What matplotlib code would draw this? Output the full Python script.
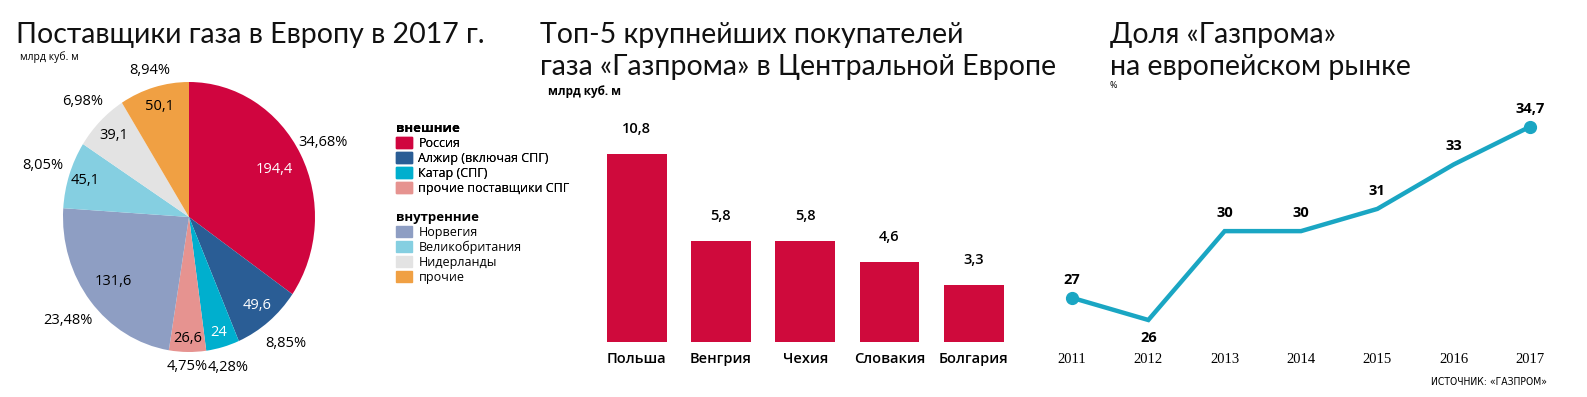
import matplotlib
matplotlib.use("Agg")
import matplotlib.pyplot as plt
from matplotlib.patches import Patch
import numpy as np

plt.rcParams['font.family'] = ['Open Sans', 'DejaVu Sans']

# --- data ---
suppliers = ['Россия', 'Алжир (включая СПГ)', 'Катар (СПГ)', 'прочие поставщики СПГ',
             'Норвегия', 'Великобритания', 'Нидерланды', 'прочие']
supply = [194.4, 49.6, 24, 26.6, 131.6, 45.1, 39.1, 50.1]
supply_colors = ['#D0053F', '#2A5D95', '#00AFCE', '#E69390',
                 '#8E9EC3', '#85CFE1', '#E3E3E3', '#F0A043']
n_external = 4

buyers = ['Польша', 'Венгрия', 'Чехия', 'Словакия', 'Болгария']
buy_vol = [10.8, 5.8, 5.8, 4.6, 3.3]

years = [2011, 2012, 2013, 2014, 2015, 2016, 2017]
share = [27, 26, 30, 30, 31, 33, 34.7]

W, H = 1587, 397


def box(x0, y0, x1, y1):
    return [x0 / W, 1 - y1 / H, (x1 - x0) / W, (y1 - y0) / H]


def comma(v):
    return f"{v:g}".replace('.', ',')


fig = plt.figure(figsize=(W / 100, H / 100), dpi=100)

# --- titles ---
tkw = dict(fontsize=20.5, family='Lato', fontweight='normal', color='#111111', va='baseline')
fig.text(16 / W, 1 - 43 / H, 'Поставщики газа в Европу в 2017 г.', **tkw)
fig.text(540 / W, 1 - 43 / H, 'Топ-5 крупнейших покупателей', **tkw)
fig.text(540 / W, 1 - 75 / H, 'газа «Газпрома» в Центральной Европе', **tkw)
fig.text(1110 / W, 1 - 43 / H, 'Доля «Газпрома»', **tkw)
fig.text(1110 / W, 1 - 75 / H, 'на европейском рынке', **tkw)
fig.text(20 / W, 1 - 57 / H, 'млрд куб. м', fontsize=7.5, va='center')
fig.text(548 / W, 1 - 92 / H, 'млрд куб. м', fontsize=8.5, fontweight='bold', va='center')
fig.text(1110 / W, 1 - 86 / H, '%', fontsize=6.5, va='center')
fig.text(1547 / W, 1 - 382 / H, 'ИСТОЧНИК: «ГАЗПРОМ»', fontsize=7.5, ha='right', va='center',
         family='DejaVu Sans', fontstretch='condensed')

# --- pie ---
ax1 = fig.add_axes(box(63, 82, 315, 352))
wedges, _ = ax1.pie(supply, colors=supply_colors, startangle=90, counterclock=False,
                    radius=1)
ax1.set_aspect('auto')
ax1.set_xlim(-1, 1)
ax1.set_ylim(-1, 1)
total = sum(supply)
val_r = [0.76, 0.85, 0.89, 0.9, 0.77, 0.87, 0.85, 0.85]
pct_r = [1.2, 1.21, 1.16, 1.11, 1.23, 1.22, 1.2, 1.13]
val_colors = ['white', 'white', 'white', 'black', 'black', 'black', 'black', 'black']
for w, v, vr, pr, vc in zip(wedges, supply, val_r, pct_r, val_colors):
    a = np.deg2rad((w.theta1 + w.theta2) / 2)
    ax1.text(vr * np.cos(a), vr * np.sin(a), comma(v), ha='center', va='center',
             fontsize=10.5, color=vc)
    ax1.text(pr * np.cos(a), pr * np.sin(a), f"{v / total * 100:.2f}%".replace('.', ','),
             ha='center', va='center', fontsize=10.5, clip_on=False)

# --- legend ---
lkw = dict(frameon=False, fontsize=9, handlelength=1.25, handleheight=0.95,
           handletextpad=0.55, labelspacing=0.15, borderpad=0, borderaxespad=0,
           alignment='left', title_fontproperties={'weight': 'bold', 'size': 9.5})
h_ext = [Patch(color=c, label=l) for c, l in zip(supply_colors[:n_external], suppliers[:n_external])]
h_int = [Patch(color=c, label=l) for c, l in zip(supply_colors[n_external:], suppliers[n_external:])]
leg1 = fig.legend(handles=h_ext, title='внешние', loc='upper left',
                  bbox_to_anchor=(396 / W, 1 - 122 / H), **lkw)
fig.add_artist(leg1)
fig.legend(handles=h_int, title='внутренние', loc='upper left',
           bbox_to_anchor=(396 / W, 1 - 211 / H), **lkw)

# --- bars ---
ax2 = fig.add_axes(box(594.5, 130, 1016, 342))
x = np.arange(len(buyers))
ax2.bar(x, buy_vol, width=0.71, color='#CF0A3C')
ax2.set_xlim(-0.5, len(buyers) - 0.5)
ax2.set_ylim(0, 12.18)
for xi, v in zip(x, buy_vol):
    ax2.annotate(comma(v), (xi, v), xytext=(0, 13), textcoords='offset points',
                 ha='center', va='bottom', fontsize=10.5, fontweight='semibold')
ax2.set_xticks(x, buyers, fontsize=10.5, fontweight='semibold')
ax2.tick_params(length=0, pad=7)
ax2.set_yticks([])
for s in ax2.spines.values():
    s.set_visible(False)

# --- line ---
ax3 = fig.add_axes(box(1072, 126.7, 1530, 320))
ax3.plot(years, share, color='#1AA6C3', lw=3.2, marker='o', markersize=8.5,
         markevery=[0, len(years) - 1], clip_on=False, solid_joinstyle='miter')
ax3.set_xlim(years[0], years[-1])
ax3.set_ylim(26, 34.7)
for i, (yr, v) in enumerate(zip(years, share)):
    below = i > 0 and i < len(share) - 1 and v < share[i - 1] and v < share[i + 1]
    ax3.annotate(comma(v), (yr, v), xytext=(0, -8 if below else 8), textcoords='offset points',
                 ha='center', va='top' if below else 'bottom', fontsize=10.5,
                 fontweight='bold')
ax3.set_xticks(years, [str(y) for y in years], family='Liberation Serif', fontsize=10.5)
ax3.tick_params(length=0, pad=24)
ax3.set_yticks([])
for s in ax3.spines.values():
    s.set_visible(False)

fig.savefig('out.png', dpi=100)
